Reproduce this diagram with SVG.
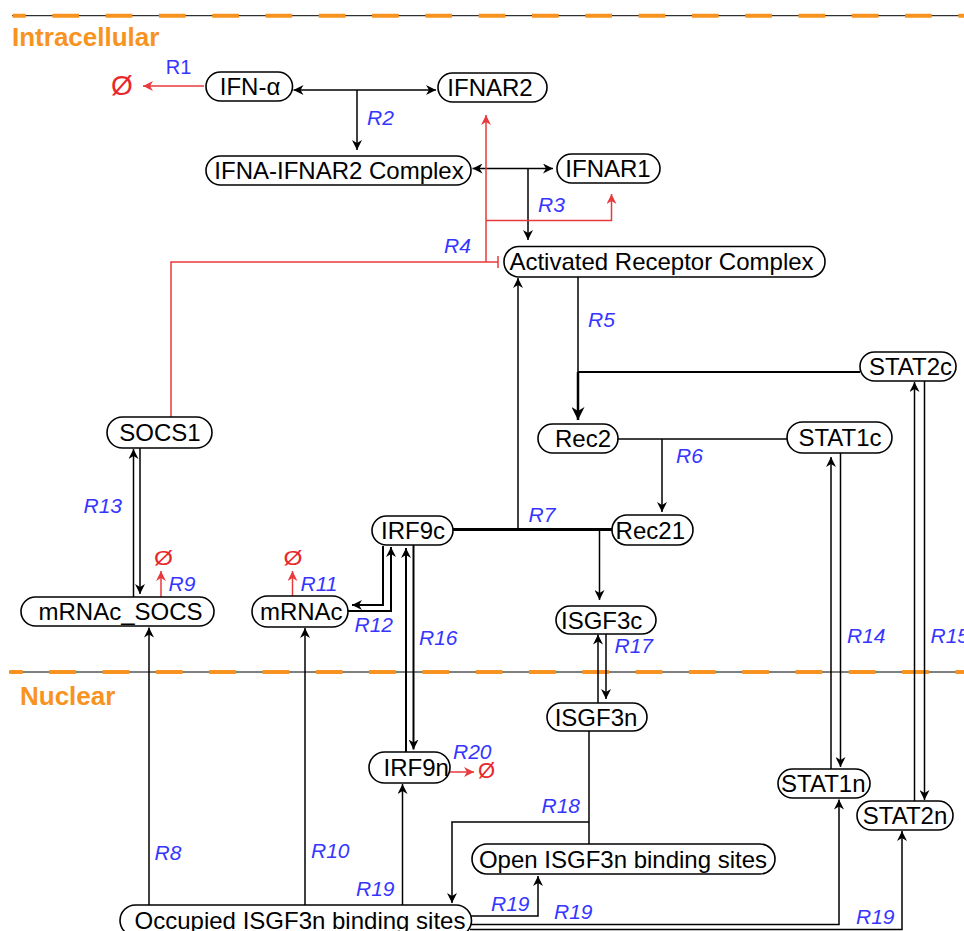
<svg xmlns="http://www.w3.org/2000/svg" width="964" height="931" viewBox="0 0 964 931">
<defs>
<style>
.node rect{fill:#fff;stroke:#000;stroke-width:1.6}
.node text{font-family:"Liberation Sans",Arial,sans-serif;font-size:24px;fill:#000;text-anchor:middle}
.lbl{font-family:"Liberation Sans",Arial,sans-serif;font-size:21px;fill:#3535ff;font-style:italic}
.c{fill:none;stroke:#000;stroke-width:1.5}
.r{fill:none;stroke:#e8393c;stroke-width:1.5}
.null{font-family:"Liberation Sans",Arial,sans-serif;fill:#e8282b}
.zone{font-family:"Liberation Sans",Arial,sans-serif;font-size:26px;font-weight:bold;fill:#f7931e}
.dash{stroke:#f7931e;stroke-width:4;stroke-dasharray:26.7 26.6;fill:none}
</style>
<marker id="a" viewBox="0 0 10 10" refX="10" refY="5" markerWidth="10" markerHeight="10" markerUnits="userSpaceOnUse" orient="auto"><path d="M0,0 L10,5 L0,10 L3,5 Z" fill="#000"/></marker>
<marker id="ab" viewBox="0 0 10 10" refX="10" refY="5" markerWidth="13" markerHeight="13" markerUnits="userSpaceOnUse" orient="auto"><path d="M0,0 L10,5 L0,10 L3,5 Z" fill="#000"/></marker>
<marker id="ar" viewBox="0 0 10 10" refX="10" refY="5" markerWidth="10" markerHeight="10" markerUnits="userSpaceOnUse" orient="auto"><path d="M0,0 L10,5 L0,10 L3,5 Z" fill="#e8393c"/></marker>
</defs>
<rect width="964" height="931" fill="#fff"/>
<g id="compartments">
<line x1="12" y1="15.7" x2="964" y2="15.7" stroke="#000" stroke-width="1"/>
<line class="dash" x1="12.7" y1="15.7" x2="964" y2="15.7" stroke-dashoffset="13.7"/>
<text class="zone" x="12" y="46">Intracellular</text>
<line x1="9" y1="672" x2="964" y2="672" stroke="#000" stroke-width="1"/>
<line class="dash" x1="9.3" y1="672" x2="964" y2="672" stroke-dashoffset="13.3"/>
<text class="zone" x="20" y="705">Nuclear</text>
</g>
<g id="connectors">
<path class="r" d="M204,86 L143,86" marker-end="url(#ar)"/>
<path class="c" d="M357,90 L293.5,90" marker-end="url(#a)"/>
<path class="c" d="M357,90 L436,90" marker-end="url(#a)"/>
<path class="c" d="M357,90 L357,150" marker-end="url(#a)"/>
<path class="c" d="M528,168.5 L472.5,168.5" marker-end="url(#a)"/>
<path class="c" d="M528,168.5 L553,168.5" marker-end="url(#a)"/>
<path class="c" d="M528,168.5 L528,240" marker-end="url(#a)"/>
<path class="r" d="M486,262 L486,115" marker-end="url(#ar)"/>
<path class="r" d="M486,220.5 L611.5,220.5 L611.5,194" marker-end="url(#ar)"/>
<path class="r" d="M171,417 L171,262 L498,262"/>
<path class="r" d="M498,256 L498,268"/>
<path class="c" d="M578,277 L578,372"/>
<path class="c" d="M860,372 L578,372" style="stroke-width:2"/>
<path class="c" d="M578,372 L578,420" style="stroke-width:2.5" marker-end="url(#ab)"/>
<path class="c" d="M618,439 L787,439"/>
<path class="c" d="M662,439 L662,512" marker-end="url(#a)"/>
<path class="c" d="M453,529.5 L612,529.5" style="stroke-width:3"/>
<path class="c" d="M518,529.5 L518,278" marker-end="url(#a)"/>
<path class="c" d="M599.5,529.5 L599.5,600" marker-end="url(#a)"/>
<path class="c" d="M149,905 L149,627.5" marker-end="url(#a)"/>
<path class="r" d="M161,597 L161,571" marker-end="url(#ar)"/>
<path class="c" d="M305,905 L305,628" marker-end="url(#a)"/>
<path class="r" d="M292.5,596 L292.5,571" marker-end="url(#ar)"/>
<path class="c" d="M383,546 L383,605 L352,605" style="stroke-width:2" marker-end="url(#a)"/>
<path class="c" d="M348,611 L391,611 L391,547" style="stroke-width:2" marker-end="url(#a)"/>
<path class="c" d="M133.5,597 L133.5,449" marker-end="url(#a)"/>
<path class="c" d="M140,448 L140,594" marker-end="url(#a)"/>
<path class="c" d="M831,769 L831,457" marker-end="url(#a)"/>
<path class="c" d="M840.5,453 L840.5,767" marker-end="url(#a)"/>
<path class="c" d="M914.5,801 L914.5,382" marker-end="url(#a)"/>
<path class="c" d="M924.5,381 L924.5,800" marker-end="url(#a)"/>
<path class="c" d="M406,752 L406,548" style="stroke-width:2" marker-end="url(#a)"/>
<path class="c" d="M413.5,545 L413.5,749.5" style="stroke-width:2" marker-end="url(#a)"/>
<path class="c" d="M598,703 L598,634.5" marker-end="url(#a)"/>
<path class="c" d="M606,634 L606,699" marker-end="url(#a)"/>
<path class="c" d="M589,731 L589,844"/>
<path class="c" d="M589,822 L452,822 L452,903" marker-end="url(#a)"/>
<path class="c" d="M402.5,905 L402.5,784" marker-end="url(#a)"/>
<path class="c" d="M471,916 L538,916 L538,876" marker-end="url(#a)"/>
<path class="c" d="M471,924.5 L839,924.5 L839,799.5" marker-end="url(#a)"/>
<path class="c" d="M470,929.5 L902,929.5 L902,831" marker-end="url(#a)"/>
<path class="r" d="M450,772 L474,772" marker-end="url(#ar)"/>
</g>
<g id="labels">
<text class="lbl" x="165.7" y="74" style="font-style:normal;font-size:20px">R1</text>
<text class="lbl" x="367" y="125">R2</text>
<text class="lbl" x="538" y="211.7">R3</text>
<text class="lbl" x="444" y="253">R4</text>
<text class="lbl" x="588" y="326.7">R5</text>
<text class="lbl" x="676" y="462.7">R6</text>
<text class="lbl" x="528.5" y="521.7">R7</text>
<text class="lbl" x="154.5" y="860">R8</text>
<text class="lbl" x="168.5" y="590.7">R9</text>
<text class="lbl" x="311" y="858.3">R10</text>
<text class="lbl" x="300.5" y="590.7">R11</text>
<text class="lbl" x="354.5" y="631.7">R12</text>
<text class="lbl" x="83.5" y="513.3">R13</text>
<text class="lbl" x="847" y="643.3">R14</text>
<text class="lbl" x="930.5" y="643.3">R15</text>
<text class="lbl" x="419" y="645">R16</text>
<text class="lbl" x="614.5" y="653.3">R17</text>
<text class="lbl" x="541.5" y="813.3">R18</text>
<text class="lbl" x="356" y="895.7">R19</text>
<text class="lbl" x="491" y="910.7">R19</text>
<text class="lbl" x="554" y="919">R19</text>
<text class="lbl" x="856" y="924.3">R19</text>
<text class="lbl" x="453" y="759">R20</text>
<text class="null" x="111" y="95" font-size="28">Ø</text>
<text class="null" x="154" y="565" font-size="20" textLength="19" lengthAdjust="spacingAndGlyphs">Ø</text>
<text class="null" x="283.5" y="565" font-size="20" textLength="19" lengthAdjust="spacingAndGlyphs">Ø</text>
<text class="null" x="478" y="778" font-size="22">Ø</text>
</g>
<g id="IFN-alpha" class="node"><rect x="206" y="72" width="86.5" height="29" rx="14.5"/><text x="250" y="95">IFN-α</text></g>
<g id="IFNAR2" class="node"><rect x="438" y="73" width="109" height="29" rx="14.5"/><text x="490" y="96">IFNAR2</text></g>
<g id="IFNA-IFNAR2-Complex" class="node"><rect x="206" y="156" width="265" height="29" rx="14.5"/><text x="339" y="179">IFNA-IFNAR2 Complex</text></g>
<g id="IFNAR1" class="node"><rect x="557" y="154" width="103" height="29" rx="14.5"/><text x="608" y="177">IFNAR1</text></g>
<g id="Activated-Receptor-Complex" class="node"><rect x="504" y="246.5" width="321" height="30.5" rx="15"/><text x="661.5" y="270">Activated Receptor Complex</text></g>
<g id="STAT2c" class="node"><rect x="860" y="352" width="96" height="29" rx="14.5"/><text x="910.5" y="375">STAT2c</text></g>
<g id="Rec2" class="node"><rect x="538" y="424" width="80" height="29" rx="14.5"/><text x="583" y="447">Rec2</text></g>
<g id="STAT1c" class="node"><rect x="787" y="422" width="105" height="31" rx="15.5"/><text x="840" y="446">STAT1c</text></g>
<g id="SOCS1" class="node"><rect x="107" y="417" width="105" height="31" rx="15.5"/><text x="160" y="441">SOCS1</text></g>
<g id="IRF9c" class="node"><rect x="372" y="516" width="81" height="29" rx="14.5"/><text x="413" y="539">IRF9c</text></g>
<g id="Rec21" class="node"><rect x="612" y="515" width="81" height="30" rx="15"/><text x="650.3" y="538.5">Rec21</text></g>
<g id="mRNAc_SOCS" class="node"><rect x="21" y="597" width="193" height="29" rx="14.5"/><text x="120.5" y="620">mRNAc_SOCS</text></g>
<g id="mRNAc" class="node"><rect x="252" y="596" width="96" height="31" rx="15.5"/><text x="301.3" y="620">mRNAc</text></g>
<g id="ISGF3c" class="node"><rect x="556" y="606" width="100" height="28" rx="14"/><text x="601.7" y="628.5">ISGF3c</text></g>
<g id="ISGF3n" class="node"><rect x="547" y="703" width="100" height="28" rx="14"/><text x="596" y="725.5">ISGF3n</text></g>
<g id="IRF9n" class="node"><rect x="369" y="752" width="81" height="31" rx="15.5"/><text x="416.3" y="776">IRF9n</text></g>
<g id="STAT1n" class="node"><rect x="778" y="769" width="92" height="29" rx="14.5"/><text x="823.3" y="792">STAT1n</text></g>
<g id="STAT2n" class="node"><rect x="857" y="801" width="96" height="29" rx="14.5"/><text x="905" y="824">STAT2n</text></g>
<g id="Open-ISGF3n-binding-sites" class="node"><rect x="472" y="844" width="303" height="30" rx="15"/><text x="623" y="867.5">Open ISGF3n binding sites</text></g>
<g id="Occupied-ISGF3n-binding-sites" class="node"><rect x="120" y="905" width="351.5" height="31" rx="15.5"/><text x="300" y="928.5">Occupied ISGF3n binding sites</text></g>
</svg>
